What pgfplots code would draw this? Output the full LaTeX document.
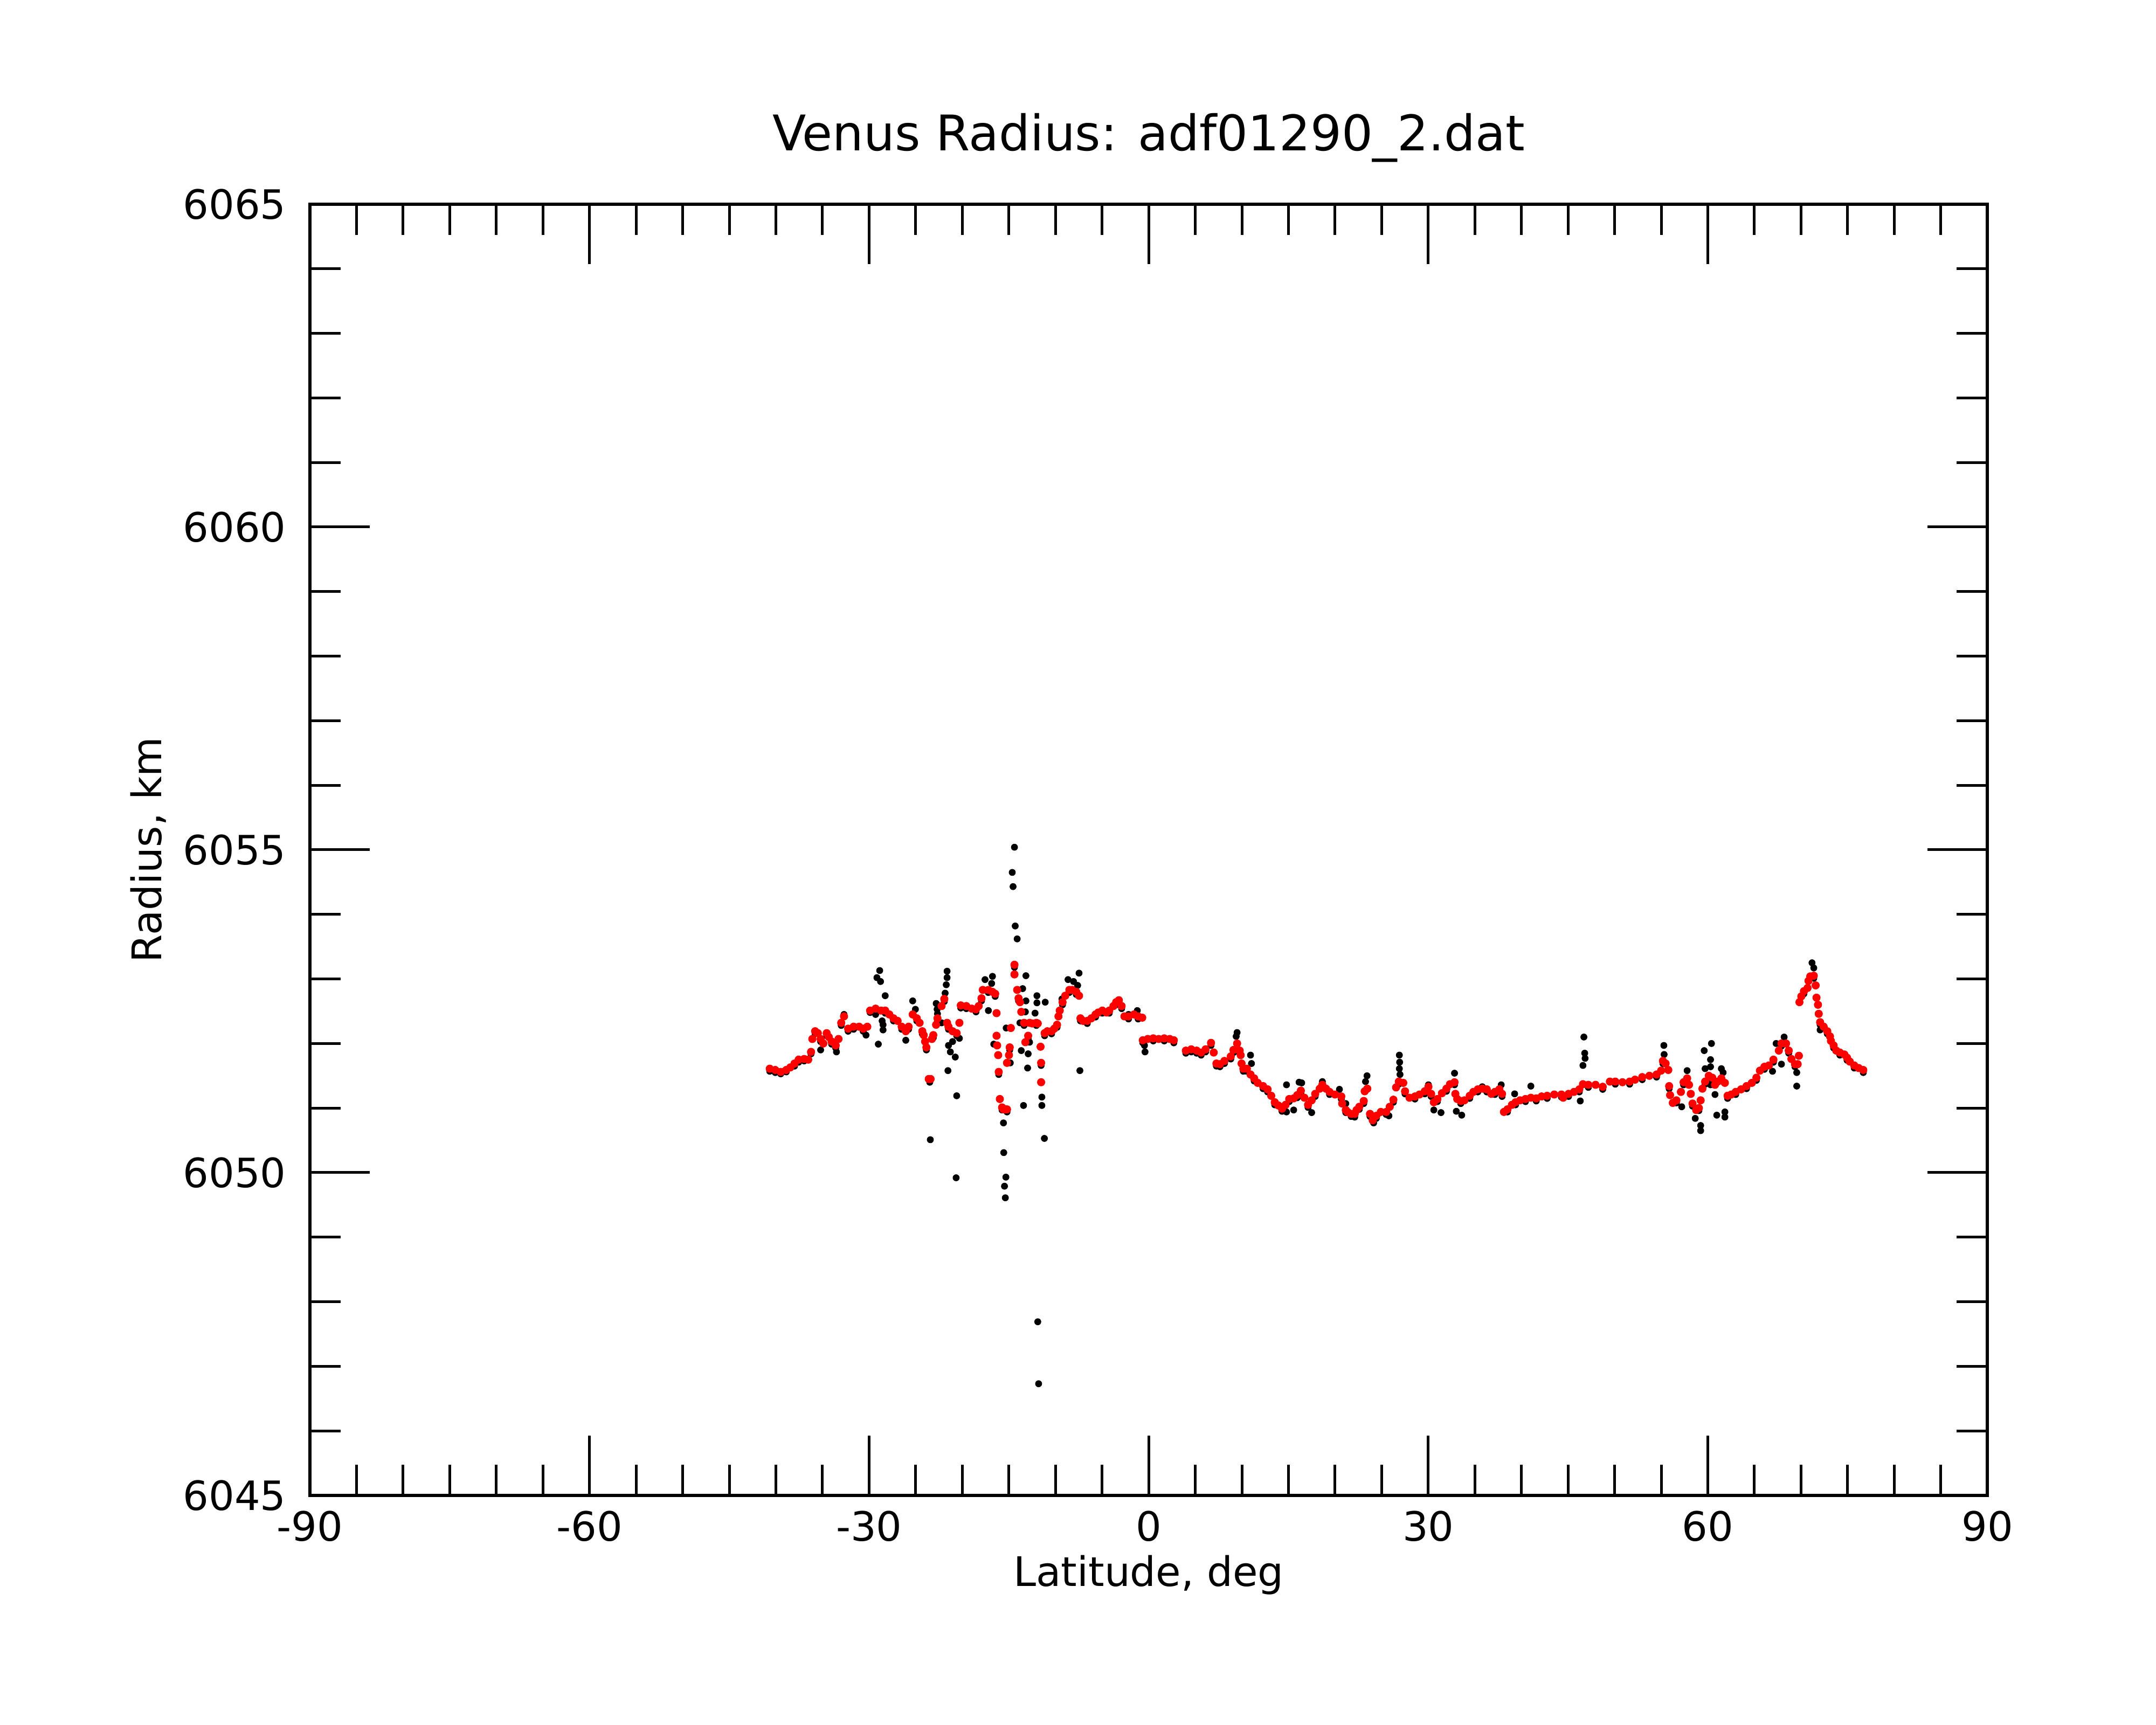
\documentclass[border=0pt]{standalone}
\usepackage{fontspec}
\setmainfont{DejaVu Sans}
\usepackage{pgfplots}
\usepackage{pgfplotstable}
\pgfplotsset{compat=1.18}

\pgfplotstableread{
lat r
-40.66 6051.61
-40.07 6051.59
-39.48 6051.56
-38.89 6051.59
-38.45 6051.63
-38.00 6051.69
-37.56 6051.75
-36.97 6051.76
-36.53 6051.75
-36.23 6051.87
-36.09 6052.07
-35.79 6052.19
-35.50 6052.16
-35.20 6052.07
-34.91 6052.00
-34.55 6052.16
-34.32 6052.10
-34.02 6052.03
-33.58 6051.97
-33.28 6052.07
-32.99 6052.32
-32.69 6052.42
-32.25 6052.23
-31.66 6052.26
-31.07 6052.26
-30.63 6052.23
-30.19 6052.26
-29.89 6052.51
-29.30 6052.54
-28.71 6052.51
-28.27 6052.51
-27.83 6052.45
-27.38 6052.39
-26.94 6052.35
-26.50 6052.26
-26.06 6052.19
-25.76 6052.26
-25.32 6052.45
-24.88 6052.39
-24.58 6052.32
-24.29 6052.19
-24.14 6052.13
-23.99 6052.03
-23.85 6051.94
-23.60 6051.45
-23.40 6051.45
-23.26 6052.07
-23.11 6052.13
-22.81 6052.29
-22.66 6052.39
-22.22 6052.58
-21.93 6052.69
-21.63 6052.32
-21.48 6052.26
-21.04 6052.19
-20.60 6052.16
-20.31 6052.32
-20.16 6052.59
-19.57 6052.58
-18.98 6052.54
-18.53 6052.53
-18.24 6052.58
-17.94 6052.70
-17.80 6052.83
-17.21 6052.83
-16.76 6052.80
-16.47 6052.77
-16.32 6052.47
-16.32 6052.12
-16.26 6051.97
-16.15 6051.82
-16.09 6051.56
-15.97 6051.14
-15.73 6051.01
-15.58 6050.98
-15.40 6050.98
-15.20 6050.98
-15.20 6051.70
-14.99 6051.82
-14.91 6051.94
-14.79 6052.24
-14.40 6053.22
-14.40 6053.07
-14.11 6052.83
-13.96 6052.70
-13.81 6052.64
-13.67 6052.49
-13.37 6052.32
-13.23 6052.02
-12.93 6052.12
-12.78 6052.32
-12.49 6052.31
-12.05 6052.32
-11.90 6052.31
-11.60 6051.95
-11.54 6051.70
-11.54 6051.40
-11.16 6052.16
-10.87 6052.19
-10.42 6052.19
-10.13 6052.23
-9.83 6052.29
-9.68 6052.42
-9.54 6052.51
-9.24 6052.64
-8.95 6052.74
-8.51 6052.83
-8.21 6052.83
-7.77 6052.80
-7.47 6052.74
-7.32 6052.39
-7.03 6052.35
-6.59 6052.35
-6.15 6052.39
-5.70 6052.45
-5.41 6052.48
-4.97 6052.51
-4.52 6052.48
-4.23 6052.51
-3.78 6052.58
-3.49 6052.64
-3.20 6052.67
-2.90 6052.58
-2.60 6052.42
-2.16 6052.42
-1.57 6052.45
-1.13 6052.42
-0.69 6052.40
-0.63 6052.05
-0.10 6052.07
0.49 6052.08
1.08 6052.07
1.67 6052.08
2.26 6052.07
2.70 6052.05
3.99 6051.89
4.57 6051.91
5.15 6051.89
5.63 6051.86
6.11 6051.91
6.69 6052.01
6.98 6051.86
7.27 6051.69
7.65 6051.68
8.13 6051.73
8.81 6051.80
9.10 6051.90
9.49 6052.00
9.77 6051.89
9.87 6051.82
9.97 6051.69
10.16 6051.61
10.54 6051.61
10.93 6051.52
11.32 6051.46
11.70 6051.39
12.28 6051.34
12.76 6051.29
13.15 6051.19
13.53 6051.09
13.92 6051.04
14.31 6050.99
14.69 6051.05
15.08 6051.14
15.56 6051.15
15.94 6051.20
16.33 6051.27
16.71 6051.16
17.10 6051.05
17.49 6051.12
17.87 6051.22
18.35 6051.30
18.64 6051.36
19.03 6051.30
19.41 6051.25
19.99 6051.21
20.67 6051.18
20.76 6051.07
21.15 6050.97
21.34 6050.94
21.73 6050.91
22.11 6050.91
22.31 6050.97
22.60 6051.02
23.08 6051.11
23.18 6051.26
23.46 6051.30
23.75 6050.91
24.04 6050.81
24.43 6050.88
24.91 6050.94
25.49 6050.94
25.87 6051.02
26.26 6051.13
26.55 6051.32
26.84 6051.41
27.32 6051.39
27.51 6051.26
27.99 6051.16
28.57 6051.18
29.06 6051.21
29.63 6051.26
30.02 6051.33
30.31 6051.22
30.60 6051.09
30.98 6051.14
31.47 6051.23
31.95 6051.30
32.33 6051.37
32.82 6051.40
32.91 6051.22
33.11 6051.14
33.49 6051.11
33.88 6051.12
34.45 6051.19
34.84 6051.25
35.32 6051.29
35.80 6051.30
36.28 6051.29
36.77 6051.22
37.15 6051.25
37.63 6051.29
37.92 6051.22
38.12 6050.94
38.50 6050.98
38.98 6051.05
39.37 6051.09
39.85 6051.12
40.43 6051.14
41.01 6051.16
41.59 6051.15
42.17 6051.18
42.76 6051.19
43.52 6051.21
44.29 6051.21
44.48 6051.16
45.06 6051.22
45.64 6051.25
46.21 6051.29
46.60 6051.37
47.18 6051.36
47.95 6051.36
48.72 6051.33
49.49 6051.41
50.07 6051.41
50.84 6051.40
51.61 6051.41
52.19 6051.44
52.96 6051.48
53.73 6051.50
54.50 6051.52
54.99 6051.58
55.18 6051.73
55.47 6051.69
55.76 6051.59
55.85 6051.34
55.95 6051.20
56.24 6051.08
56.63 6051.12
57.11 6051.25
57.40 6051.40
57.78 6051.46
57.98 6051.36
58.17 6051.22
58.36 6051.07
58.75 6050.97
59.04 6051.00
59.23 6051.12
59.42 6051.30
59.71 6051.41
60.10 6051.50
60.48 6051.47
60.77 6051.36
61.06 6051.41
61.45 6051.46
61.83 6051.39
62.12 6051.19
62.51 6051.21
62.99 6051.25
63.57 6051.29
64.15 6051.34
64.72 6051.39
65.21 6051.47
65.59 6051.58
66.07 6051.64
66.55 6051.66
67.04 6051.75
67.62 6051.89
67.90 6052.00
68.39 6052.00
68.68 6051.89
68.97 6051.76
69.35 6051.68
69.64 6051.68
69.77 6051.81
69.83 6052.64
70.03 6052.73
70.31 6052.81
70.70 6052.86
70.80 6052.97
70.99 6053.04
71.37 6053.05
71.57 6052.90
71.66 6052.71
71.82 6052.60
71.90 6052.46
72.05 6052.33
72.43 6052.26
72.82 6052.19
73.11 6052.11
73.21 6052.04
73.50 6051.97
73.78 6051.89
74.17 6051.86
74.65 6051.83
74.94 6051.78
75.23 6051.72
75.71 6051.66
76.19 6051.62
76.68 6051.59
}\redtab

\pgfplotstableread{
lat r
-40.66 6051.57
-40.07 6051.55
-39.48 6051.53
-38.89 6051.56
-38.00 6051.65
-37.56 6051.71
-36.97 6051.73
-36.23 6051.84
-35.79 6052.15
-35.20 6052.03
-34.55 6052.12
-34.02 6051.99
-33.58 6051.93
-32.99 6052.28
-32.69 6052.45
-32.25 6052.19
-31.66 6052.22
-30.63 6052.19
-29.89 6052.48
-29.30 6052.50
-28.27 6052.47
-27.38 6052.35
-26.50 6052.22
-25.76 6052.22
-24.88 6052.35
-24.29 6052.15
-23.85 6051.90
-23.49 6051.40
-23.11 6052.09
-22.66 6052.35
-21.93 6052.65
-21.48 6052.22
-20.60 6052.12
-20.16 6052.55
-19.57 6052.54
-18.53 6052.49
-17.94 6052.66
-17.21 6052.79
-16.47 6052.73
-16.09 6051.52
-15.73 6050.97
-15.20 6050.94
-14.91 6051.90
-14.40 6053.18
-13.96 6052.66
-13.37 6052.28
-12.93 6052.08
-12.05 6052.28
-11.54 6051.66
-11.16 6052.12
-10.42 6052.15
-9.83 6052.25
-9.24 6052.60
-8.51 6052.79
-7.77 6052.76
-7.32 6052.35
-6.59 6052.31
-5.70 6052.41
-4.97 6052.47
-4.23 6052.47
-3.49 6052.60
-2.90 6052.54
-2.16 6052.38
-1.13 6052.38
-0.63 6052.01
0.49 6052.04
1.67 6052.04
2.70 6052.01
3.99 6051.85
4.57 6051.87
5.15 6051.85
5.63 6051.82
6.11 6051.87
6.69 6051.97
7.27 6051.65
7.65 6051.64
8.13 6051.69
8.81 6051.76
9.10 6051.86
9.77 6051.85
10.16 6051.57
10.54 6051.57
11.32 6051.42
12.28 6051.30
12.76 6051.25
13.53 6051.05
14.31 6050.95
15.08 6051.10
15.94 6051.16
16.33 6051.23
17.10 6051.01
17.87 6051.18
18.64 6051.32
19.41 6051.21
20.67 6051.14
21.15 6050.93
21.73 6050.87
22.60 6050.98
23.08 6051.07
23.75 6050.87
24.43 6050.84
25.49 6050.90
26.26 6051.09
26.84 6051.37
27.51 6051.22
28.57 6051.14
29.63 6051.22
30.31 6051.18
30.98 6051.10
31.95 6051.26
32.82 6051.36
33.49 6051.07
34.45 6051.15
35.32 6051.25
36.28 6051.25
37.15 6051.21
37.92 6051.18
38.50 6050.94
39.37 6051.05
40.43 6051.10
41.59 6051.11
42.76 6051.15
44.29 6051.17
45.06 6051.18
46.21 6051.25
47.18 6051.32
48.72 6051.29
50.07 6051.37
51.61 6051.37
52.96 6051.44
54.50 6051.48
55.18 6051.69
55.85 6051.30
56.63 6051.08
57.40 6051.36
58.36 6051.03
59.04 6050.96
59.71 6051.37
60.48 6051.43
61.45 6051.42
62.12 6051.15
62.99 6051.21
64.15 6051.30
65.21 6051.43
66.07 6051.60
67.04 6051.71
67.90 6051.96
68.68 6051.85
69.35 6051.64
70.31 6052.77
71.37 6053.01
72.05 6052.29
72.82 6052.15
73.50 6051.93
74.17 6051.82
74.94 6051.74
75.71 6051.62
76.68 6051.55
-14.40 6055.04
-14.64 6054.65
-14.55 6054.43
-14.32 6053.82
-14.11 6053.62
-11.90 6047.69
-11.81 6046.73
-23.43 6050.51
-20.66 6049.92
-15.58 6050.77
-15.55 6050.31
-15.32 6049.93
-15.47 6049.79
-15.38 6049.61
-11.19 6050.53
-20.60 6051.19
-11.46 6051.04
-11.46 6051.17
-13.43 6051.04
-7.38 6051.58
-21.54 6051.58
-12.99 6051.62
-29.01 6051.99
-28.86 6053.13
-29.16 6053.02
-28.77 6052.96
-28.27 6052.74
-28.60 6052.35
-28.50 6052.29
-28.50 6052.21
-29.30 6052.45
-30.33 6052.13
-35.20 6051.90
-33.50 6051.87
-25.32 6052.66
-25.03 6052.53
-26.06 6052.05
-22.80 6052.62
-22.70 6052.53
-22.66 6052.46
-21.63 6053.12
-21.63 6053.02
-21.72 6052.91
-21.84 6052.78
-22.22 6052.32
-21.48 6051.97
-21.28 6051.87
-20.75 6051.79
-20.31 6052.08
-21.04 6052.03
-17.56 6052.99
-16.76 6053.04
-16.85 6052.93
-17.20 6052.51
-16.62 6051.99
-15.29 6052.24
-14.85 6051.70
-13.67 6051.89
-12.93 6051.84
-13.17 6053.05
-13.52 6052.85
-13.17 6052.66
-13.23 6052.49
-13.81 6052.32
-11.99 6052.74
-11.99 6052.63
-12.19 6052.47
-11.10 6052.64
-12.78 6052.02
-8.65 6052.99
-8.06 6052.96
-7.47 6053.09
-7.62 6052.90
-9.30 6052.69
-2.16 6052.45
-0.39 6051.87
-0.45 6051.97
-1.22 6052.51
9.49 6052.17
9.39 6052.11
10.93 6051.82
11.03 6051.69
14.79 6051.36
16.14 6051.40
16.42 6051.39
14.79 6050.94
15.56 6050.97
17.49 6050.93
18.64 6051.41
20.47 6051.29
21.15 6051.07
23.43 6051.50
23.27 6051.41
26.90 6051.82
26.93 6051.71
26.90 6051.61
26.97 6051.52
30.02 6051.36
31.37 6050.93
30.60 6050.97
32.82 6051.54
33.01 6050.95
33.59 6050.89
24.14 6050.77
22.11 6050.86
25.78 6050.88
35.80 6051.33
37.83 6051.36
41.01 6051.34
39.27 6051.22
46.70 6052.10
46.79 6051.85
46.83 6051.77
46.60 6051.66
46.31 6051.11
55.28 6051.97
55.31 6051.83
57.78 6051.58
57.20 6051.02
58.65 6050.84
59.23 6050.73
59.23 6050.65
59.61 6051.89
60.39 6052.00
60.29 6051.75
59.71 6051.61
60.29 6051.64
61.45 6051.61
61.64 6051.55
60.77 6051.21
60.96 6050.89
61.83 6050.94
61.83 6050.86
60.29 6051.36
68.19 6052.10
67.33 6052.00
66.94 6051.57
67.90 6051.68
71.18 6053.25
71.37 6053.17
72.05 6052.21
69.54 6051.55
69.54 6051.34
}\blacktab

\begin{document}
\begin{tikzpicture}
\path[use as bounding box] (-103.5pt,-76.5pt) rectangle (616.5pt,499.5pt);
\begin{axis}[
  at={(0,0)}, anchor=south west, scale only axis,
  width=560.2pt, height=431.3pt,
  xmin=-90, xmax=90, ymin=6045, ymax=6065,
  xtick={-90,-60,-30,0,30,60,90},
  xticklabels={-90,-60,-30,0,30,60,90},
  ytick={6045,6050,6055,6060,6065},
  yticklabels={6045,6050,6055,6060,6065},
  minor x tick num=5, minor y tick num=4,
  tick align=inside, tick pos=both, ticklabel pos=left,
  major tick length=20pt, minor tick length=10.3pt,
  axis line style={line width=1pt},
  tick style={black, line width=0.9pt},
  tick label style={font=\fontsize{13.5}{16}\selectfont},
  xticklabel style={inner sep=0pt, anchor=north, yshift=-4.9pt},
  yticklabel style={inner sep=0pt, anchor=east, xshift=-7.8pt},
  title={Venus Radius: adf01290\_2.dat},
  title style={font=\fontsize{16.4}{19}\selectfont, at={(axis description cs:0.5,1.0275)}, anchor=base, inner sep=0pt},
  xlabel={Latitude, deg},
  xlabel style={font=\fontsize{13.6}{16}\selectfont, at={(axis description cs:0.5,-0.0703)}, anchor=base, inner sep=0pt},
  ylabel={Radius, km},
  ylabel style={font=\fontsize{13.6}{16}\selectfont, at={(axis description cs:-0.0884,0.5)}, anchor=base, inner sep=0pt},
]
\addplot[black, only marks, mark=*, mark size=1.05pt, mark options={line width=0.2pt, fill=black}] table {\blacktab};
\addplot[red, only marks, mark=*, mark size=1.25pt, mark options={line width=0.2pt, fill=red}] table {\redtab};
\end{axis}
\end{tikzpicture}
\end{document}
